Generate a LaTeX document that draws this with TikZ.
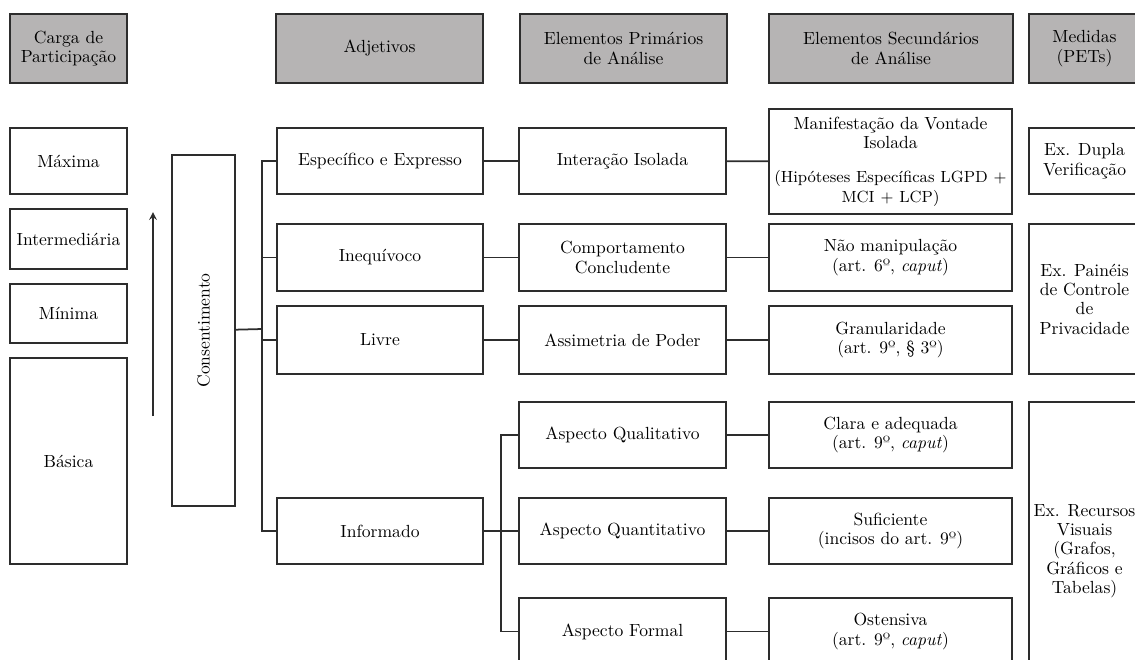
\documentclass[tikz,border=0pt]{standalone}
\usepackage{tikz}
\usetikzlibrary{arrows}
\definecolor{headgray}{RGB}{182,180,180}
\definecolor{linegray}{RGB}{45,45,45}

\begin{document}
\begin{tikzpicture}[
  box/.style={draw=linegray, line width=1pt, align=center, inner sep=1pt,
              font=\fontsize{10}{11}\selectfont},
  head/.style={box, fill=headgray, minimum height=1.38cm},
  link/.style={draw=linegray, line width=1pt}]
\clip (0cm,0cm) rectangle (22.7cm,-13.18cm);
% headers
\node[head, minimum width=2.34cm] (h1) at (1.37cm,-0.97cm) {Carga de\\Participação};
\node[head, minimum width=4.14cm] (h2) at (7.59cm,-0.97cm) {Adjetivos};
\node[head, minimum width=4.14cm] (h3) at (12.47cm,-0.97cm) {Elementos Primários\\de Análise};
\node[head, minimum width=4.88cm] (h4) at (17.82cm,-0.97cm) {Elementos Secundários\\de Análise};
\node[head, minimum width=2.22cm] (h5) at (21.69cm,-0.97cm) {Medidas\\(PETs)};
% carga
\node[box, minimum width=2.34cm, minimum height=1.32cm] (c1) at (1.37cm,-3.22cm) {Máxima};
\node[box, minimum width=2.34cm, minimum height=1.2cm] (c2) at (1.37cm,-4.78cm) {Intermediária};
\node[box, minimum width=2.34cm, minimum height=1.18cm] (c3) at (1.37cm,-6.27cm) {Mínima};
\node[box, minimum width=2.34cm, minimum height=4.12cm] (c4) at (1.37cm,-9.22cm) {Básica};
\coordinate (s1) at (3.06cm,-8.32cm);
\coordinate (s2) at (3.06cm,-4.24cm);
\draw[link, -stealth] (s1) -- (s2);
\node[box, rotate=90, minimum width=7.02cm, minimum height=1.26cm] (k) at (4.07cm,-6.61cm) {Consentimento};
% adjetivos
\node[box, minimum width=4.12cm, minimum height=1.32cm] (a1) at (7.6cm,-3.22cm) {Específico e Expresso};
\node[box, minimum width=4.12cm, minimum height=1.34cm] (a2) at (7.6cm,-5.15cm) {Inequívoco};
\node[box, minimum width=4.12cm, minimum height=1.36cm] (a3) at (7.6cm,-6.8cm) {Livre};
\node[box, minimum width=4.12cm, minimum height=1.32cm] (a4) at (7.6cm,-10.62cm) {Informado};
% primarios
\node[box, minimum width=4.14cm, minimum height=1.32cm] (p1) at (12.45cm,-3.22cm) {Interação Isolada};
\node[box, minimum width=4.14cm, minimum height=1.34cm] (p2) at (12.45cm,-5.15cm) {Comportamento\\Concludente};
\node[box, minimum width=4.14cm, minimum height=1.36cm] (p3) at (12.45cm,-6.8cm) {Assimetria de Poder};
\node[box, minimum width=4.14cm, minimum height=1.32cm] (p4) at (12.45cm,-8.7cm) {Aspecto Qualitativo};
\node[box, minimum width=4.14cm, minimum height=1.32cm] (p5) at (12.45cm,-10.62cm) {Aspecto Quantitativo};
\node[box, minimum width=4.14cm, minimum height=1.34cm] (p6) at (12.45cm,-12.63cm) {Aspecto Formal};
% secundarios
\node[box, text width=4.79cm, minimum height=2.1cm] (e1) at (17.81cm,-3.23cm) {Manifestação da Vontade\\Isolada\\[0.3cm]{\fontsize{9.2}{11}\selectfont(Hipóteses Específicas LGPD +\\MCI + LCP)}};
\node[box, minimum width=4.86cm, minimum height=1.34cm] (e2) at (17.81cm,-5.15cm) {Não manipulação\\(art. 6º, \textit{caput})};
\node[box, minimum width=4.86cm, minimum height=1.36cm] (e3) at (17.81cm,-6.8cm) {Granularidade\\(art. 9º, § 3º)};
\node[box, minimum width=4.86cm, minimum height=1.32cm] (e4) at (17.81cm,-8.7cm) {Clara e adequada\\(art. 9º, \textit{caput})};
\node[box, minimum width=4.86cm, minimum height=1.32cm] (e5) at (17.81cm,-10.62cm) {Suficiente\\(incisos do art. 9º)};
\node[box, minimum width=4.86cm, minimum height=1.34cm] (e6) at (17.81cm,-12.63cm) {Ostensiva\\(art. 9º, \textit{caput})};
% medidas
\node[box, minimum width=2.22cm, minimum height=1.32cm] (m1) at (21.69cm,-3.22cm) {Ex. Dupla\\Verificação};
\node[box, minimum width=2.22cm, minimum height=3.0cm] (m2) at (21.69cm,-5.98cm) {Ex. Painéis\\de Controle\\de\\Privacidade};
\node[box, minimum width=2.22cm, minimum height=5.96cm] (m3) at (21.69cm,-11.02cm) {Ex. Recursos\\Visuais\\(Grafos,\\Gráficos e\\Tabelas)};
% ligacoes
\coordinate (j1) at (5.24cm,-6.58cm);
\coordinate (j2) at (10.02cm,-10.62cm);
\draw[link] (k) -- (j1);
\draw[link] (a1.west) -| (j1);
\draw[link] (a2.west) -| (j1);
\draw[link] (a3.west) -| (j1);
\draw[link] (a4.west) -| (j1);
\draw[link] (a1) -- (p1);
\draw[link] (a2) -- (p2);
\draw[link] (a3) -- (p3);
\draw[link] (a4) -- (p5);
\draw[link] (p4.west) -| (j2);
\draw[link] (p6.west) -| (j2);
\draw[link] (p1) -- (e1);
\draw[link] (p2) -- (e2);
\draw[link] (p3) -- (e3);
\draw[link] (p4) -- (e4);
\draw[link] (p5) -- (e5);
\draw[link] (p6) -- (e6);
\end{tikzpicture}
\end{document}
